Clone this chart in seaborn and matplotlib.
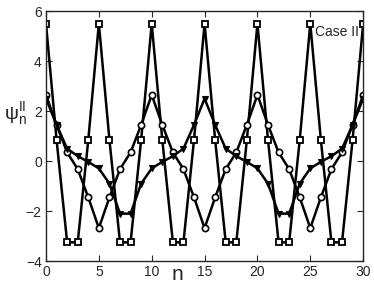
import numpy as np
import pandas as pd
import matplotlib
matplotlib.use('Agg')
import matplotlib.pyplot as plt
import seaborn as sns

n = list(range(31))
squares = [5.5, 0.85, -3.25, -3.25, 0.85, 5.5, 0.85, -3.25, -3.25, 0.85,
           5.5, 0.85, -3.25, -3.25, 0.85, 5.5, 0.85, -3.25, -3.25, 0.85,
           5.5, 0.85, -3.25, -3.25, 0.85, 5.5, 0.85, -3.25, -3.25, 0.85, 5.5]
circles = [2.65, 1.45, 0.35, -0.32, -1.45, -2.68, -1.45, -0.32, 0.35, 1.45,
           2.65, 1.45, 0.35, -0.32, -1.45, -2.68, -1.45, -0.32, 0.35, 1.45,
           2.65, 1.45, 0.35, -0.32, -1.45, -2.68, -1.45, -0.32, 0.35, 1.45, 2.65]
triangles = [2.5, 1.45, 0.5, 0.2, -0.03, -0.29, -0.9, -2.1, -2.1, -0.9,
             -0.29, -0.03, 0.2, 0.5, 1.45, 2.5, 1.45, 0.5, 0.2, -0.03,
             -0.29, -0.9, -2.1, -2.1, -0.9, -0.29, -0.03, 0.2, 0.5, 1.45, 2.5]

df = pd.DataFrame({'n': n, 'sq': squares, 'ci': circles, 'tr': triangles})

sns.set_style('ticks')
plt.rcParams['font.family'] = ['Liberation Sans', 'DejaVu Sans']
plt.rcParams['xtick.direction'] = 'in'
plt.rcParams['ytick.direction'] = 'in'

fig = plt.figure(figsize=(3.74, 2.86), dpi=100)
ax = fig.add_axes([0.123, 0.087, 0.848, 0.874])

sns.lineplot(data=df, x='n', y='sq', ax=ax, color='black', lw=1.8,
             marker='s', markersize=4, markerfacecolor='white',
             markeredgecolor='black', markeredgewidth=1.3)
sns.lineplot(data=df, x='n', y='ci', ax=ax, color='black', lw=1.8,
             marker='o', markersize=4.5, markerfacecolor='white',
             markeredgecolor='black', markeredgewidth=1.2)
sns.lineplot(data=df, x='n', y='tr', ax=ax, color='black', lw=1.8,
             marker='v', markersize=5, markerfacecolor='black',
             markeredgecolor='black', markeredgewidth=0.8)

ax.set_xlim(0, 30)
ax.set_ylim(-4, 6)
ax.set_xticks([0, 5, 10, 15, 20, 25, 30])
ax.set_yticks([-4, -2, 0, 2, 4, 6])
ax.tick_params(top=True, right=True, length=4, width=0.8, labelsize=10, pad=3)
for s in ax.spines.values():
    s.set_linewidth(1.0)
    s.set_visible(True)

ax.set_xlabel('n', fontsize=15)
ax.xaxis.set_label_coords(0.416, -0.015)
ax.set_ylabel(r'$\mathregular{\psi_n^{II}}$', fontsize=14, rotation=0)
ax.yaxis.set_label_coords(-0.098, 0.535)
ax.text(25.4, 5.15, 'Case II', fontsize=10, va='center', ha='left')

fig.savefig('out.png', dpi=100)
